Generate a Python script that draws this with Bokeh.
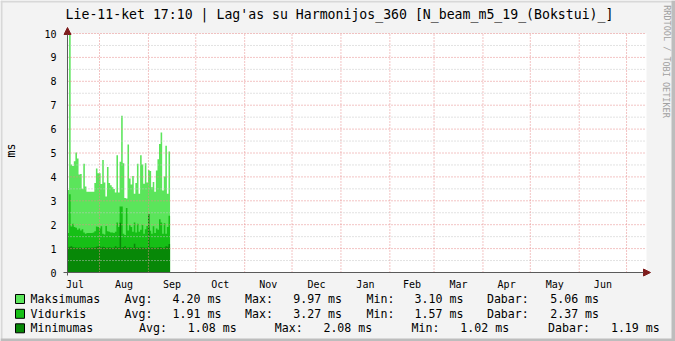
import datetime as dt
from bokeh.plotting import figure
from bokeh.models import (FixedTicker, Label, Range1d, ColumnDataSource, Arrow, LinearAxis,
                          NormalHead, BoxAnnotation, CustomJSTickFormatter)
from bokeh.embed import file_html
from bokeh.resources import INLINE

# ---------------- data ----------------
title_text = "Lie-11-ket 17:10 | Lag'as su Harmonijos_360 [N_beam_m5_19_(Bokstui)_]"
y_label = "ms"
watermark = "RRDTOOL / TOBI OETIKER"

series_names = ["Maksimumas", "Vidurkis", "Minimumas"]
series_colors = ["#5BE55B", "#16BF16", "#078807"]

# daily values (ms), starting 2012-07-11 17:10
maksimumas = [3.45, 9.97, 4.52, 4.46, 4.66, 5.02, 4.77, 4.10, 4.12, 3.50,
              4.55, 3.60, 3.38, 3.38, 3.38, 3.38, 3.38, 3.74, 4.35, 4.15,
              4.15, 3.70, 4.71, 3.77, 3.18, 4.41, 3.74, 3.65, 3.57, 3.49,
              3.35, 4.91, 3.35, 4.63, 6.56, 4.57, 3.12, 3.10, 5.36, 3.93,
              3.68, 4.04, 3.29, 3.74, 4.55, 3.29, 4.91, 4.52, 3.71, 4.57,
              3.77, 4.29, 4.25, 3.57, 3.79, 3.38, 4.27, 4.74, 5.38, 5.86,
              3.43, 4.02, 5.30, 3.30, 5.06]
vidurkis = [1.65, 3.27, 1.92, 2.04, 1.90, 1.87, 1.79, 1.84, 1.76, 1.81,
            1.67, 1.62, 1.65, 1.65, 1.65, 1.65, 1.67, 1.73, 1.92, 1.90,
            1.84, 1.93, 1.62, 1.59, 1.95, 1.73, 1.70, 1.67, 1.67, 1.65,
            1.70, 2.09, 1.90, 2.76, 2.76, 1.62, 1.57, 2.70, 1.76, 1.98,
            1.90, 1.70, 2.09, 1.67, 2.04, 1.70, 1.79, 2.00, 1.62, 1.81,
            1.95, 1.90, 1.75, 1.62, 1.93, 1.65, 1.84, 1.79, 2.23, 2.09,
            1.62, 2.06, 1.62, 1.90, 2.37]
minimumas = [1.05, 1.08, 1.10, 1.06, 1.05, 1.05, 1.04, 1.05, 1.05, 1.03,
             1.04, 1.05, 1.05, 1.05, 1.04, 1.05, 1.05, 1.06, 1.08, 1.10,
             1.09, 1.05, 1.08, 1.07, 1.04, 1.05, 1.06, 1.05, 1.04, 1.05,
             1.10, 1.05, 1.06, 2.08, 1.05, 1.07, 1.10, 1.04, 1.05, 1.06,
             1.05, 1.04, 1.20, 1.05, 1.05, 1.04, 1.06, 1.05, 1.05, 1.04,
             1.05, 2.45, 1.05, 1.06, 1.05, 1.04, 1.05, 1.05, 1.07, 1.06,
             1.04, 1.05, 1.10, 1.08, 1.19]

month_labels = ["Jul", "Aug", "Sep", "Oct", "Nov", "Dec",
                "Jan", "Feb", "Mar", "Apr", "May", "Jun"]
y_ticks = [0, 1, 2, 3, 4, 5, 6, 7, 8, 9, 10]

legend_rows = [
    ["Maksimumas", "Avg:", "4.20 ms", "Max:", "9.97 ms", "Min:", "3.10 ms", "Dabar:", "5.06 ms"],
    ["Vidurkis", "Avg:", "1.91 ms", "Max:", "3.27 ms", "Min:", "1.57 ms", "Dabar:", "2.37 ms"],
    ["Minimumas", "Avg:", "1.08 ms", "Max:", "2.08 ms", "Min:", "1.02 ms", "Dabar:", "1.19 ms"],
]

# ---------------- time axis ----------------
start = dt.datetime(2012, 7, 11, 17, 10)
end = start + dt.timedelta(days=365)

def days_from_start(t):
    return (t - start).total_seconds() / 86400.0

month_firsts = []
y, m = 2012, 7
for _ in range(13):
    month_firsts.append(dt.datetime(y, m, 1))
    m += 1
    if m > 12:
        m, y = 1, y + 1
label_pos = []
for a, b in zip(month_firsts[:-1], month_firsts[1:]):
    label_pos.append(days_from_start(a + (b - a) / 2))
grid_pos = [days_from_start(t) for t in month_firsts[1:] if t < end]

# ---------------- layout constants (page pixels) ----------------
W, H = 675, 341
PX_DAY = 1.578
PX_MS = 23.9
ORIG_X, ORIG_Y = 67, 272             # page position of (day 0, 0 ms)
X_START = -ORIG_X / PX_DAY
X_END = X_START + W / PX_DAY
Y_START = -(H - ORIG_Y) / PX_MS
Y_END = Y_START + H / PX_MS
CANVAS_END = (646 - ORIG_X) / PX_DAY
X_ARROW = (650 - ORIG_X) / PX_DAY
Y_ARROW = (ORIG_Y - 27) / PX_MS
MONO = "DejaVu Sans Mono"

p = figure(width=W, height=H, x_range=Range1d(X_START, X_END), y_range=Range1d(Y_START, Y_END),
           output_backend="svg", toolbar_location=None,
           x_axis_location=None, y_axis_location=None,
           min_border=0, min_border_left=0, min_border_right=0,
           min_border_top=0, min_border_bottom=0,
           background_fill_color="#F3F3F3", border_fill_color="#F3F3F3",
           outline_line_color=None)
p.xgrid.visible = False
p.ygrid.visible = False

# white graph canvas
p.quad(left=[0], right=[CANVAS_END], bottom=[0], top=[10], fill_color="white", line_color=None)

# data areas (drawn max, avg, min on top of each other)
x_edges = list(range(len(maksimumas) + 1))
for vals, col in zip([maksimumas, vidurkis, minimumas], series_colors):
    src = ColumnDataSource(dict(x=x_edges, y1=[0] * len(x_edges), y2=vals + [vals[-1]]))
    p.varea_step(x="x", y1="y1", y2="y2", source=src, step_mode="after", fill_color=col)

# grid
minor_y = [v + 0.5 for v in y_ticks[:-1]]
major_y = y_ticks[1:]
p.segment(x0=[0] * len(minor_y), x1=[CANVAS_END] * len(minor_y), y0=minor_y, y1=minor_y,
          line_color="#C4C4C4", line_dash="1 2", line_width=1)
p.segment(x0=[0] * len(major_y), x1=[CANVAS_END] * len(major_y), y0=major_y, y1=major_y,
          line_color="#E68888", line_dash="1 2", line_width=1)
p.segment(x0=grid_pos, x1=grid_pos, y0=[0] * len(grid_pos), y1=[10] * len(grid_pos),
          line_color="#E68888", line_dash="1 2", line_width=1)

# axes (fixed at the origin)
xaxis = LinearAxis(fixed_location=0)
yaxis = LinearAxis(fixed_location=0)
p.add_layout(xaxis, "below")
p.add_layout(yaxis, "left")
for ax in (xaxis, yaxis):
    ax.axis_line_color = None
    ax.major_tick_line_color = None
    ax.minor_tick_line_color = None
    ax.major_label_text_font = MONO
    ax.major_label_text_font_size = "10px"
    ax.major_label_text_color = "black"
xaxis.ticker = FixedTicker(ticks=label_pos)
xaxis.formatter = CustomJSTickFormatter(args=dict(labels=month_labels), code="return labels[index];")
xaxis.major_label_standoff = 0
yaxis.ticker = FixedTicker(ticks=y_ticks)
yaxis.major_label_standoff = 5

axis_col = "#5A5A5A"
arrow_col = "#7F1D1D"
p.add_layout(Arrow(end=NormalHead(size=7, fill_color=arrow_col, line_color=arrow_col),
                   x_start=-4 / PX_DAY, y_start=0, x_end=X_ARROW, y_end=0,
                   line_color=axis_col, line_width=1))
p.add_layout(Arrow(end=NormalHead(size=7, fill_color=arrow_col, line_color=arrow_col),
                   x_start=0, y_start=-3 / PX_MS, x_end=0, y_end=Y_ARROW,
                   line_color=axis_col, line_width=1))

# ---------------- outer shading frame ----------------
def cbox(l, r, t, b, color, line=None):
    p.add_layout(BoxAnnotation(left=l, right=r, top=t, bottom=b,
                               left_units="canvas", right_units="canvas",
                               top_units="canvas", bottom_units="canvas",
                               fill_color=color, fill_alpha=1,
                               line_color=line, line_width=1, line_alpha=1 if line else 0))

cbox(0, 2, 0, H, "#D8D8D8")
cbox(0, W, 0, 2, "#D8D8D8")
cbox(W - 4, W, 0, H, "#BDBDBD")
cbox(0, W, H - 3, H, "#BDBDBD")

# ---------------- texts (canvas units) ----------------
def lab(text, x, y, size, **kw):
    opts = dict(text_font=MONO, text_font_size=size, text_color="black",
                text_baseline="middle", text_align="left")
    opts.update(kw)
    p.add_layout(Label(x=x, y=y, x_units="canvas", y_units="canvas", text=text, **opts))

lab(title_text, 339, 13.5, "13.2px", text_align="center")
lab(y_label, 10.5, 150, "11.6px", angle=1.5708, text_align="center")
lab(watermark, 666, 61, "8.5px", angle=-1.5708, text_align="center", text_color="#A0A0A0")

row_y = [298.5, 313.3, 327.8]
cols_12 = [30, 124, 172, 244.5, 292.7, 366, 414, 486.4, 549.7]
cols_3 = [30, 138.6, 187.3, 274.2, 322.9, 411.1, 459.8, 547.6, 610.4]
for r, (row, ry, col) in enumerate(zip(legend_rows, row_y, series_colors)):
    xs = cols_3 if r == 2 else cols_12
    for t, xx in zip(row, xs):
        lab(t, xx, ry, "11.6px")
    cbox(15, 24, ry - 4.5, ry + 4.5, col, line="black")

open("out.html", "w").write(file_html(p, INLINE))
